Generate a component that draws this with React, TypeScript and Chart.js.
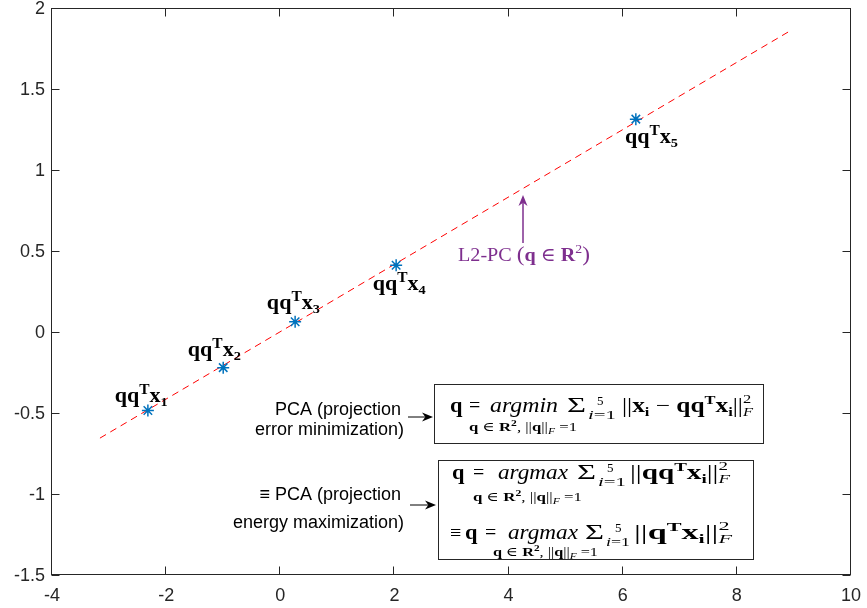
import React, { useEffect, useRef } from 'react';
import { Chart, registerables } from 'chart.js';

Chart.register(...registerables);

// ---- data ----
const pointX = [-2.32, -1.0, 0.26, 2.03, 6.23];
const pointY = [-0.485, -0.22, 0.063, 0.412, 1.314];
const lineX = [-3.16, 8.9];
const lineY = [-0.655, 1.852];
const xTicks = [-4, -2, 0, 2, 4, 6, 8, 10];
const yTicks = [-1.5, -1, -0.5, 0, 0.5, 1, 1.5, 2];
const xTickLabels = ['-4', '-2', '0', '2', '4', '6', '8', '10'];
const yTickLabels = ['-1.5', '-1', '-0.5', '0', '0.5', '1', '1.5', '2'];
const pointSubs = ['1', '2', '3', '4', '5'];

const SERIF = '"Liberation Serif", "DejaVu Serif", serif';
const SANS = '"Liberation Sans", Arial, Helvetica, sans-serif';
const PURPLE = '#7E2F8E';
const AXIS = '#262626';

type Seg = { t: string; st?: string; s?: number; dy?: number; adv?: boolean };

function fontOf(seg: Seg, base: number, family: string) {
  const st = seg.st || 'r';
  const it = st.includes('i') ? 'italic ' : '';
  const bd = st.includes('b') ? 'bold ' : '';
  return `${it}${bd}${seg.s ?? base}px ${family}`;
}

function richWidth(ctx: CanvasRenderingContext2D, segs: Seg[], base: number, family: string) {
  let w = 0;
  for (const sg of segs) {
    ctx.font = fontOf(sg, base, family);
    if (sg.adv !== false) w += ctx.measureText(sg.t).width;
  }
  return w;
}

function drawRich(
  ctx: CanvasRenderingContext2D,
  x: number,
  y: number,
  segs: Seg[],
  opts: { size: number; family?: string; color?: string; width?: number; sx?: number }
) {
  const family = opts.family || SERIF;
  const nat = richWidth(ctx, segs, opts.size, family);
  const sx = opts.width ? opts.width / nat : opts.sx ?? 1;
  ctx.save();
  ctx.fillStyle = opts.color || '#000';
  ctx.textBaseline = 'alphabetic';
  ctx.textAlign = 'left';
  ctx.translate(x, y);
  ctx.scale(sx, 1);
  let cx = 0;
  for (const sg of segs) {
    ctx.font = fontOf(sg, opts.size, family);
    ctx.fillText(sg.t, cx, sg.dy ?? 0);
    if (sg.adv !== false) cx += ctx.measureText(sg.t).width;
  }
  ctx.restore();
}

function arrow(ctx: CanvasRenderingContext2D, x1: number, y1: number, x2: number, y2: number, color: string, lw: number) {
  const L = 11, W = 9;
  const ang = Math.atan2(y2 - y1, x2 - x1);
  ctx.save();
  ctx.strokeStyle = color;
  ctx.fillStyle = color;
  ctx.lineWidth = lw;
  ctx.beginPath();
  ctx.moveTo(x1, y1);
  ctx.lineTo(x2 - Math.cos(ang) * L * 0.7, y2 - Math.sin(ang) * L * 0.7);
  ctx.stroke();
  ctx.translate(x2, y2);
  ctx.rotate(ang);
  ctx.beginPath();
  ctx.moveTo(0, 0);
  ctx.lineTo(-L, W / 2);
  ctx.lineTo(-L * 0.7, 0);
  ctx.lineTo(-L, -W / 2);
  ctx.closePath();
  ctx.fill();
  ctx.restore();
}

const sumLimits = (ctx: CanvasRenderingContext2D, x: number, y: number, subW = 28) => {
  drawRich(ctx, x, y, [{ t: 'Σ' }], { size: 22, width: 19 });
  drawRich(ctx, x + 30, y - 7, [{ t: '5' }], { size: 13 });
  drawRich(ctx, x + 21, y + 7, [{ t: 'i', st: 'i' }, { t: '=1' }], { size: 13, width: subW });
};

const subRow = (): Seg[] => [
  { t: 'q', st: 'b' },
  { t: ' ∈ ' },
  { t: 'R', st: 'b' },
  { t: '2', st: 'b', s: 9, dy: -5 },
  { t: ', ||' },
  { t: 'q', st: 'b' },
  { t: '||' },
  { t: 'F', st: 'i', s: 9, dy: 3 },
  { t: ' =1' },
];

const annotPlugin = {
  id: 'annot',
  afterDraw(chart: any) {
    const ctx: CanvasRenderingContext2D = chart.ctx;
    const { left, right, top, bottom } = chart.chartArea;
    const xs = chart.scales.x;
    const ys = chart.scales.y;
    ctx.save();

    // axes frame with inward ticks
    ctx.strokeStyle = AXIS;
    ctx.lineWidth = 1;
    const L = Math.round(left) - 0.5, R = Math.round(right) - 0.5;
    const T = Math.round(top) + 0.5, B = Math.round(bottom) - 0.5;
    ctx.strokeRect(L, T, R - L, B - T);
    ctx.beginPath();
    for (const v of xTicks) {
      const px = Math.round(xs.getPixelForValue(v)) - 0.5;
      ctx.moveTo(px, B); ctx.lineTo(px, B - 8);
      ctx.moveTo(px, T); ctx.lineTo(px, T + 8);
    }
    for (const v of yTicks) {
      const py = Math.round(ys.getPixelForValue(v)) + 0.5;
      ctx.moveTo(L, py); ctx.lineTo(L + 8, py);
      ctx.moveTo(R, py); ctx.lineTo(R - 8, py);
    }
    ctx.stroke();

    // tick labels
    ctx.fillStyle = AXIS;
    ctx.font = `18px ${SANS}`;
    ctx.textBaseline = 'middle';
    ctx.textAlign = 'center';
    xTicks.forEach((v, i) => ctx.fillText(xTickLabels[i], xs.getPixelForValue(v), bottom + 21));
    ctx.textAlign = 'right';
    yTicks.forEach((v, i) => ctx.fillText(yTickLabels[i], left - 7, ys.getPixelForValue(v) + 1));

    // point labels (data coordinates)
    const labelPos = [
      [-2.9, -0.43],
      [-1.62, -0.146],
      [-0.235, 0.139],
      [1.62, 0.262],
      [6.04, 1.165],
    ];
    labelPos.forEach(([lx, ly], i) => {
      const px = xs.getPixelForValue(lx);
      const py = ys.getPixelForValue(ly);
      drawRich(ctx, px, py, [
        { t: 'qq', st: 'b' },
        { t: 'T', st: 'b', s: 14, dy: -8 },
        { t: 'x', st: 'b' },
        { t: pointSubs[i], st: 'b', s: 13, dy: 4 },
      ], { size: 20, width: 53 });
    });

    // purple L2-PC annotation
    arrow(ctx, 523, 243, 523, 195, PURPLE, 1.5);
    drawRich(ctx, 458, 261, [
      { t: 'L2-PC ' },
      { t: '(', s: 22 },
      { t: 'q', st: 'b' },
      { t: ' ∈ ' },
      { t: 'R', st: 'b' },
      { t: '2', s: 13, dy: -8 },
      { t: ')', s: 22 },
    ], { size: 19, width: 132, color: PURPLE });

    // left-side sans descriptions
    ctx.fillStyle = '#000';
    ctx.font = `18px ${SANS}`;
    ctx.textAlign = 'right';
    ctx.textBaseline = 'alphabetic';
    ctx.fillText('PCA (projection', 401, 415);
    ctx.fillText('error minimization)', 404, 435);
    ctx.fillText('≡ PCA (projection', 401, 500);
    ctx.fillText('energy maximization)', 404, 528);
    arrow(ctx, 408, 417, 433, 417, '#000', 1);
    arrow(ctx, 410, 505, 436, 505, '#000', 1);

    // box 1
    ctx.strokeStyle = AXIS;
    ctx.lineWidth = 1;
    ctx.strokeRect(434.5, 384.5, 329, 59);
    drawRich(ctx, 450, 412, [{ t: 'q', st: 'b' }], { size: 20, sx: 1.12 });
    drawRich(ctx, 469, 412, [{ t: '=' }], { size: 20 });
    drawRich(ctx, 490, 412, [{ t: 'argmin', st: 'i' }], { size: 20, width: 68 });
    sumLimits(ctx, 567, 412);
    drawRich(ctx, 622, 412, [
      { t: '||' },
      { t: 'x', st: 'b' },
      { t: 'i', st: 'b', s: 13, dy: 4 },
      { t: ' − ' },
      { t: 'qq', st: 'b' },
      { t: 'T', st: 'b', s: 13, dy: -8 },
      { t: 'x', st: 'b' },
      { t: 'i', st: 'b', s: 13, dy: 4 },
      { t: '||' },
      { t: '2', s: 13, dy: -9, adv: false },
      { t: 'F', st: 'i', s: 13, dy: 4 },
    ], { size: 20, width: 131 });
    drawRich(ctx, 469, 431, subRow(), { size: 13, width: 108 });

    // box 2
    ctx.strokeRect(438.5, 460.5, 315, 99);
    drawRich(ctx, 452, 479, [{ t: 'q', st: 'b' }], { size: 20, sx: 1.12 });
    drawRich(ctx, 473, 479, [{ t: '=' }], { size: 20 });
    drawRich(ctx, 498, 479, [{ t: 'argmax', st: 'i' }], { size: 20, width: 70 });
    sumLimits(ctx, 577, 479);
    drawRich(ctx, 630, 479, [
      { t: '||' },
      { t: 'qq', st: 'b' },
      { t: 'T', st: 'b', s: 13, dy: -8 },
      { t: 'x', st: 'b' },
      { t: 'i', st: 'b', s: 13, dy: 4 },
      { t: '||' },
      { t: '2', s: 13, dy: -9, adv: false },
      { t: 'F', st: 'i', s: 13, dy: 4 },
    ], { size: 20, width: 100 });
    drawRich(ctx, 473, 501, subRow(), { size: 13, width: 109 });

    drawRich(ctx, 450, 539, [{ t: '≡' }], { size: 20 });
    drawRich(ctx, 465, 539, [{ t: 'q', st: 'b' }], { size: 20, sx: 1.12 });
    drawRich(ctx, 485, 539, [{ t: '=' }], { size: 20 });
    drawRich(ctx, 508, 539, [{ t: 'argmax', st: 'i' }], { size: 20, width: 70 });
    sumLimits(ctx, 585, 539, 24);
    drawRich(ctx, 634, 539, [
      { t: '||' },
      { t: 'q', st: 'b' },
      { t: 'T', st: 'b', s: 13, dy: -8 },
      { t: 'x', st: 'b' },
      { t: 'i', st: 'b', s: 13, dy: 4 },
      { t: '||' },
      { t: '2', s: 13, dy: -9, adv: false },
      { t: 'F', st: 'i', s: 13, dy: 4 },
    ], { size: 20, width: 98 });
    drawRich(ctx, 493, 556, subRow(), { size: 13, width: 105 });

    ctx.restore();
  },
};

export default function App() {
  const ref = useRef<HTMLCanvasElement>(null);
  useEffect(() => {
    if (!ref.current) return;
    const chart = new Chart(ref.current, {
      type: 'scatter',
      data: {
        datasets: [
          {
            type: 'line',
            data: lineX.map((x, i) => ({ x, y: lineY[i] })),
            borderColor: '#FF0000',
            borderWidth: 1,
            borderDash: [7, 5],
            pointRadius: 0,
            showLine: true,
            fill: false,
            order: 2,
          } as any,
          {
            data: pointX.map((x, i) => ({ x, y: pointY[i] })),
            pointStyle: 'star',
            pointRadius: 6,
            borderColor: '#0072BD',
            backgroundColor: '#0072BD',
            pointBorderWidth: 1.5,
            showLine: false,
            order: 1,
          } as any,
        ],
      },
      options: {
        animation: false,
        responsive: false,
        events: [],
        layout: { padding: { top: 8, right: 16, left: 0, bottom: 0 } },
        plugins: { legend: { display: false }, tooltip: { enabled: false } },
        scales: {
          x: {
            type: 'linear',
            min: -4,
            max: 10,
            grid: { display: false, drawTicks: false },
            border: { display: false },
            afterBuildTicks: (s: any) => { s.ticks = xTicks.map((v) => ({ value: v })); },
            afterFit: (s: any) => { s.height = 33; },
            ticks: { display: false },
          },
          y: {
            type: 'linear',
            min: -1.5,
            max: 2,
            grid: { display: false, drawTicks: false },
            border: { display: false },
            afterBuildTicks: (s: any) => { s.ticks = yTicks.map((v) => ({ value: v })); },
            afterFit: (s: any) => { s.width = 52; },
            ticks: { display: false },
          },
        },
      },
      plugins: [annotPlugin],
    });
    return () => chart.destroy();
  }, []);
  return (
    <div style={{ position: 'absolute', left: 0, top: 0, width: 867, height: 608, background: '#fff' }}>
      <canvas ref={ref} width={867} height={608} style={{ width: 867, height: 608, display: 'block' }} />
    </div>
  );
}
